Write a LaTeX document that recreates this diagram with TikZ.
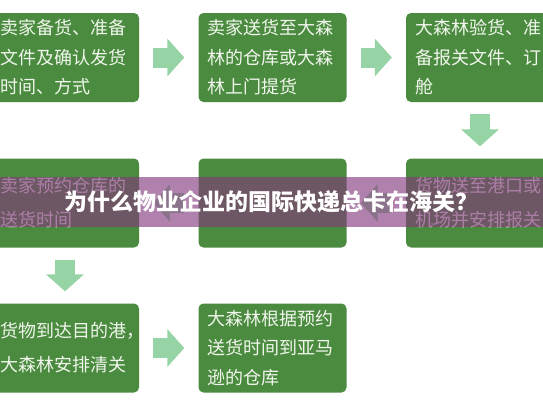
\documentclass[tikz,border=0pt]{standalone}
\usepackage{fontspec}
\newfontfamily\cjk{Noto Sans CJK SC}
\usepackage{xcolor}
\usetikzlibrary{arrows.meta,positioning,calc}
\definecolor{boxgreen}{RGB}{75,139,63}
\definecolor{boxtext}{RGB}{240,246,236}
\definecolor{arrowgreen}{RGB}{150,212,165}
\definecolor{bannerpurple}{RGB}{131,57,124}

\begin{document}
\begin{tikzpicture}[x=1pt,y=-1pt,
  stepbox/.style={fill=boxgreen,rounded corners=5pt,minimum width=148pt,minimum height=89pt,
    inner xsep=9pt,text width=130pt,align=left,text=boxtext,font=\cjk\fontsize{18}{29.5}\selectfont},
  twoline/.style={font=\cjk\fontsize{18}{34}\selectfont},
  flow/.style={arrowgreen,line width=20pt,-{Triangle[width=37pt,length=17pt]},shorten <=14pt,shorten >=14pt},
  down/.style={flow,shorten <=12pt,shorten >=12pt},
  banner/.style={fill=bannerpurple,fill opacity=0.63,text opacity=1,minimum width=543pt,minimum height=50pt,
    text=white,font=\cjk\bfseries\fontsize{23}{23}\selectfont}
]
  \useasboundingbox (0,0) rectangle (543,408);
  \clip (0,0) rectangle (543,408);
  \fill[white] (0,0) rectangle (543,408);

  \node[stepbox] (s1) at (65,57.5) {卖家备货、准备\\文件及确认发货\\时间、方式};
  \node[stepbox] (s2) at (272.5,57.5) {卖家送货至大森\\林的仓库或大森\\林上门提货};
  \node[stepbox] (s3) at (480,57.5) {大森林验货、准\\备报关文件、订\\舱};
  \node[stepbox,twoline] (s4) at (480,203) {货物送至港口或\\机场并安排报关};
  \node[stepbox] (s5) at (272.5,203) {};
  \node[stepbox,twoline] (s6) at (65,203) {卖家预约仓库的\\送货时间};
  \node[stepbox,twoline] (s7) at (65,348) {货物到达目的港，\\大森林安排清关};
  \node[stepbox] (s8) at (272.5,348) {大森林根据预约\\送货时间到亚马\\逊的仓库};

  \draw[flow] (s1) -- (s2);
  \draw[flow] (s2) -- (s3);
  \draw[down] (s3) -- (s4);
  \draw[flow] (s4) -- (s5);
  \draw[flow] (s5) -- (s6);
  \draw[down] (s6) -- (s7);
  \draw[flow] (s7) -- (s8);

  \node[banner] (title) at (271.5,202) {为什么物业企业的国际快递总卡在海关？};
\end{tikzpicture}
\end{document}
